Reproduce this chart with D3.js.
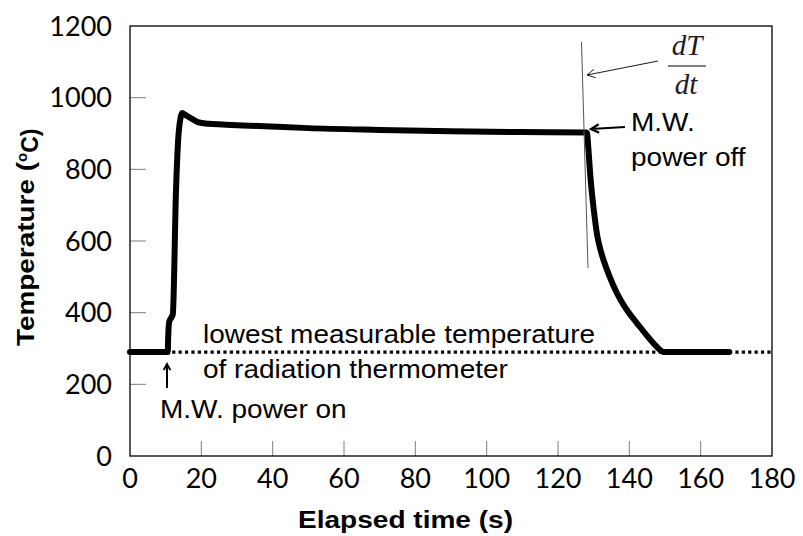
<!DOCTYPE html>
<html>
<head>
<meta charset="utf-8">
<script src="https://cdn.jsdelivr.net/npm/d3@7"></script>
<style>
  body { margin: 0; background: #fff; }
  svg { display: block; }
</style>
</head>
<body>
<svg id="chart"></svg>
<script>
// measured curve (time in s, temperature in degC)
const times = [0, 10.6, 10.7, 11.0, 11.5, 12.0, 12.9, 13.5, 14.2, 14.6, 15.5, 17, 19, 22, 26, 30, 36, 50, 70, 90, 110, 128.1,
  128.5, 129, 129.5, 130, 131, 132, 133, 134.5, 136.5, 139, 141, 143, 145, 147, 148.5, 149.5, 168];
const temps = [290, 290, 330, 375, 385, 395, 742, 882, 945, 957, 952, 943, 932, 927, 925, 923, 921, 915, 910, 906, 904, 903,
  860, 790, 735, 690, 615, 572, 540, 500, 455, 412, 385, 360, 335, 312, 297, 290, 290];

const xTicks = [0, 20, 40, 60, 80, 100, 120, 140, 160, 180];
const yTicks = [0, 200, 400, 600, 800, 1000, 1200];
const lowestT = 290;
const powerOnT = 10.7;

const width = 803, height = 536;
const margin = {left: 130, right: 31, top: 26, bottom: 80};

const svg = d3.select('#chart').attr('width', width).attr('height', height);

const x = d3.scaleLinear().domain([0, 180]).range([margin.left, width - margin.right]);
const y = d3.scaleLinear().domain([0, 1200]).range([height - margin.bottom, margin.top]);

const fontNum = 'Lato, "Open Sans", sans-serif';
const fontTxt = '"Liberation Sans", Arial, sans-serif';

// ticks (inside, grey)
svg.append('g').selectAll('line')
  .data(yTicks.slice(1, -1))
  .enter().append('line')
  .attr('x1', x(0)).attr('x2', x(0) + 16)
  .attr('y1', d => y(d)).attr('y2', d => y(d))
  .attr('stroke', '#7f7f7f').attr('stroke-width', 1);

svg.append('g').selectAll('line')
  .data(xTicks.slice(1, -1))
  .enter().append('line')
  .attr('x1', d => x(d)).attr('x2', d => x(d))
  .attr('y1', y(0)).attr('y2', y(0) - 15)
  .attr('stroke', '#7f7f7f').attr('stroke-width', 1);

// frame
svg.append('rect')
  .attr('x', x(0)).attr('y', y(1200))
  .attr('width', x(180) - x(0)).attr('height', y(0) - y(1200))
  .attr('fill', 'none').attr('stroke', '#000').attr('stroke-width', 1.3);

// tick labels
svg.append('g').selectAll('text')
  .data(yTicks)
  .enter().append('text')
  .attr('x', 112).attr('y', d => y(d)).attr('dy', '0.36em')
  .attr('text-anchor', 'end')
  .style('font-family', fontNum).style('font-size', '27px')
  .text(d => d);

svg.append('g').selectAll('text')
  .data(xTicks)
  .enter().append('text')
  .attr('x', d => x(d)).attr('y', 488)
  .attr('text-anchor', 'middle')
  .style('font-family', fontNum).style('font-size', '27px')
  .text(d => d);

// axis titles
svg.append('text')
  .attr('x', 298).attr('y', 528)
  .attr('textLength', 215).attr('lengthAdjust', 'spacingAndGlyphs')
  .style('font-family', fontTxt).style('font-size', '23px').style('font-weight', 'bold')
  .text('Elapsed time (s)');

const yTitle = svg.append('text')
  .attr('transform', 'translate(34,346) rotate(-90)')
  .style('font-family', fontTxt).style('font-size', '23px').style('font-weight', 'bold');
yTitle.append('tspan').attr('textLength', 184).attr('lengthAdjust', 'spacingAndGlyphs').text('Temperature (');
yTitle.append('tspan').attr('dy', '-0.45em').style('font-size', '15px').text('o');
yTitle.append('tspan').attr('dy', '0.45em').text('C)');

// lowest measurable temperature (dotted)
svg.append('line')
  .attr('x1', x(powerOnT) + 4).attr('x2', x(180))
  .attr('y1', y(lowestT)).attr('y2', y(lowestT))
  .attr('stroke', '#000').attr('stroke-width', 3.2)
  .attr('stroke-dasharray', '3.2,3.2');

// curve
const pts = times.map((t, i) => [t, temps[i]]);
svg.append('path')
  .datum(pts)
  .attr('fill', 'none')
  .attr('stroke', '#000')
  .attr('stroke-width', 6)
  .attr('stroke-linejoin', 'round')
  .attr('stroke-linecap', 'round')
  .attr('d', d3.line().curve(d3.curveMonotoneX).x(d => x(d[0])).y(d => y(d[1])));

// tangent line at power off
svg.append('line')
  .attr('x1', 581.5).attr('y1', 42)
  .attr('x2', 588).attr('y2', 268)
  .attr('stroke', '#555').attr('stroke-width', 1);

// arrows
function arrow(x1, y1, x2, y2, w, head) {
  const a = Math.atan2(y2 - y1, x2 - x1);
  const p = d3.path();
  p.moveTo(x1, y1); p.lineTo(x2, y2);
  p.moveTo(x2 - head * Math.cos(a - 0.5), y2 - head * Math.sin(a - 0.5));
  p.lineTo(x2, y2);
  p.lineTo(x2 - head * Math.cos(a + 0.5), y2 - head * Math.sin(a + 0.5));
  svg.append('path').attr('d', p.toString())
    .attr('fill', 'none').attr('stroke', '#000').attr('stroke-width', w)
    .attr('stroke-linejoin', 'miter');
}
arrow(658, 61, 587, 75, 0.9, 9);
arrow(625, 127, 591, 129, 2.2, 9);
arrow(167, 388, 167, 364, 2, 7);

// texts, slightly wide as in the original
const txt = (tx, ty, s) => svg.append('text')
  .attr('transform', `translate(${tx},${ty}) scale(1.12,1)`)
  .style('font-family', fontTxt).style('font-size', '25px')
  .text(s);

txt(203, 343, 'lowest measurable temperature');
txt(203, 378, 'of radiation thermometer');
txt(160, 418, 'M.W. power on');
txt(631, 131, 'M.W.');
txt(631, 166, 'power off');

// dT/dt
const frac = svg.append('g').style('font-family', '"Liberation Serif", "DejaVu Serif", serif')
  .style('font-style', 'italic').style('font-size', '29px').attr('fill', '#1b1b2a');
frac.append('text').attr('x', 687).attr('y', 55).attr('text-anchor', 'middle').text('dT');
frac.append('line').attr('x1', 668).attr('x2', 706).attr('y1', 66).attr('y2', 66)
  .attr('stroke', '#000').attr('stroke-width', 1.2);
frac.append('text').attr('x', 686).attr('y', 94).attr('text-anchor', 'middle').text('dt');
</script>
</body>
</html>
